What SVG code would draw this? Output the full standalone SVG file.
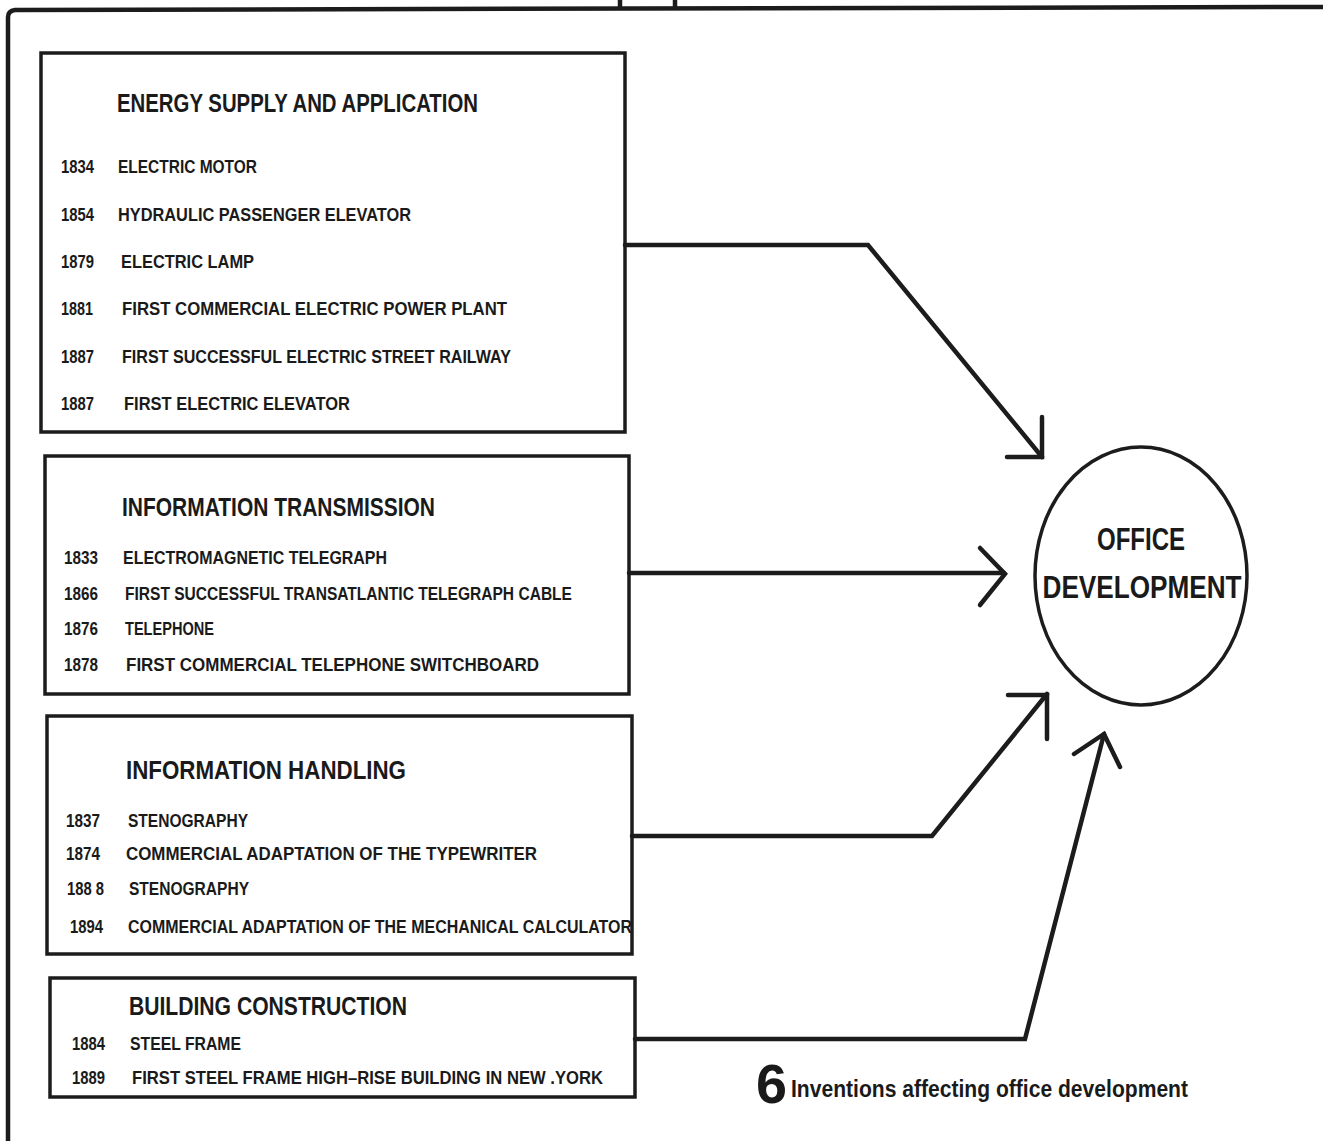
<svg xmlns="http://www.w3.org/2000/svg" width="1323" height="1141" viewBox="0 0 1323 1141" xml:space="preserve">
  <style>
    .frame { fill: none; stroke: #1c1c1c; stroke-width: 4.5; stroke-linejoin: round; }
    .box { fill: #ffffff; stroke: #1c1c1c; stroke-width: 3.5; }
    .wire { fill: none; stroke: #1c1c1c; stroke-width: 4.5; stroke-linejoin: miter; stroke-linecap: round; }
    text { font-family: "Liberation Sans", Arial, sans-serif; font-weight: bold; fill: #1a1a1a; }
    .title { font-size: 26px; }
    .item { font-size: 19px; }
    .hub { font-size: 31px; }
    .num { font-size: 56px; font-weight: 900; }
    .cap { font-size: 23px; }
  </style>
  <rect width="1323" height="1141" fill="#ffffff"/>

  <!-- page border with registration ticks -->
  <g id="page-frame">
    <path class="frame" d="M8,1141 L8,17 Q8,11 15,10 L1323,7"/>
    <line class="frame" x1="620" y1="0" x2="620" y2="7"/>
    <line class="frame" x1="675" y1="0" x2="675" y2="7"/>
  </g>

  <!-- energy supply -->
  <g id="energy-supply">
    <rect class="box" x="41" y="53" width="584" height="379"/>
    <text class="title" x="117" y="112" textLength="361" lengthAdjust="spacingAndGlyphs">ENERGY SUPPLY  AND APPLICATION</text>
    <text class="item" x="61" y="173" textLength="33" lengthAdjust="spacingAndGlyphs">1834</text>
    <text class="item" x="118" y="173" textLength="139" lengthAdjust="spacingAndGlyphs">ELECTRIC MOTOR</text>
    <text class="item" x="61" y="221" textLength="33" lengthAdjust="spacingAndGlyphs">1854</text>
    <text class="item" x="118" y="221" textLength="293" lengthAdjust="spacingAndGlyphs">HYDRAULIC  PASSENGER  ELEVATOR</text>
    <text class="item" x="61" y="268" textLength="33" lengthAdjust="spacingAndGlyphs">1879</text>
    <text class="item" x="121" y="268" textLength="133" lengthAdjust="spacingAndGlyphs">ELECTRIC  LAMP</text>
    <text class="item" x="61" y="315" textLength="32" lengthAdjust="spacingAndGlyphs">1881</text>
    <text class="item" x="122" y="315" textLength="385" lengthAdjust="spacingAndGlyphs">FIRST COMMERCIAL  ELECTRIC  POWER PLANT</text>
    <text class="item" x="61" y="363" textLength="33" lengthAdjust="spacingAndGlyphs">1887</text>
    <text class="item" x="122" y="363" textLength="389" lengthAdjust="spacingAndGlyphs">FIRST  SUCCESSFUL ELECTRIC  STREET  RAILWAY</text>
    <text class="item" x="61" y="410" textLength="33" lengthAdjust="spacingAndGlyphs">1887</text>
    <text class="item" x="124" y="410" textLength="226" lengthAdjust="spacingAndGlyphs">FIRST  ELECTRIC  ELEVATOR</text>
  </g>

  <!-- information transmission -->
  <g id="information-transmission">
    <rect class="box" x="45" y="456" width="584" height="238"/>
    <text class="title" x="122" y="516" textLength="313" lengthAdjust="spacingAndGlyphs">INFORMATION  TRANSMISSION</text>
    <text class="item" x="64" y="564" textLength="34" lengthAdjust="spacingAndGlyphs">1833</text>
    <text class="item" x="123" y="564" textLength="264" lengthAdjust="spacingAndGlyphs">ELECTROMAGNETIC  TELEGRAPH</text>
    <text class="item" x="64" y="600" textLength="34" lengthAdjust="spacingAndGlyphs">1866</text>
    <text class="item" x="125" y="600" textLength="447" lengthAdjust="spacingAndGlyphs">FIRST  SUCCESSFUL TRANSATLANTIC TELEGRAPH  CABLE</text>
    <text class="item" x="64" y="635" textLength="34" lengthAdjust="spacingAndGlyphs">1876</text>
    <text class="item" x="125" y="635" textLength="89" lengthAdjust="spacingAndGlyphs">TELEPHONE</text>
    <text class="item" x="64" y="671" textLength="34" lengthAdjust="spacingAndGlyphs">1878</text>
    <text class="item" x="126" y="671" textLength="413" lengthAdjust="spacingAndGlyphs">FIRST  COMMERCIAL  TELEPHONE  SWITCHBOARD</text>
  </g>

  <!-- information handling -->
  <g id="information-handling">
    <rect class="box" x="47" y="716" width="585" height="238"/>
    <text class="title" x="126" y="779" textLength="280" lengthAdjust="spacingAndGlyphs">INFORMATION  HANDLING</text>
    <text class="item" x="66" y="827" textLength="34" lengthAdjust="spacingAndGlyphs">1837</text>
    <text class="item" x="128" y="827" textLength="120" lengthAdjust="spacingAndGlyphs">STENOGRAPHY</text>
    <text class="item" x="66" y="860" textLength="34" lengthAdjust="spacingAndGlyphs">1874</text>
    <text class="item" x="126" y="860" textLength="411" lengthAdjust="spacingAndGlyphs">COMMERCIAL ADAPTATION OF THE  TYPEWRITER</text>
    <text class="item" x="67" y="895" textLength="37" lengthAdjust="spacingAndGlyphs">188 8</text>
    <text class="item" x="129" y="895" textLength="120" lengthAdjust="spacingAndGlyphs">STENOGRAPHY</text>
    <text class="item" x="70" y="933" textLength="33" lengthAdjust="spacingAndGlyphs">1894</text>
    <text class="item" x="128" y="933" textLength="504" lengthAdjust="spacingAndGlyphs">COMMERCIAL ADAPTATION  OF  THE MECHANICAL CALCULATOR</text>
  </g>

  <!-- building construction -->
  <g id="building-construction">
    <rect class="box" x="50" y="978" width="585" height="119"/>
    <text class="title" x="129" y="1015" textLength="278" lengthAdjust="spacingAndGlyphs">BUILDING  CONSTRUCTION</text>
    <text class="item" x="72" y="1050" textLength="33" lengthAdjust="spacingAndGlyphs">1884</text>
    <text class="item" x="130" y="1050" textLength="111" lengthAdjust="spacingAndGlyphs">STEEL  FRAME</text>
    <text class="item" x="72" y="1084" textLength="33" lengthAdjust="spacingAndGlyphs">1889</text>
    <text class="item" x="132" y="1084" textLength="471" lengthAdjust="spacingAndGlyphs">FIRST STEEL FRAME HIGH–RISE BUILDING IN NEW .YORK</text>
  </g>

  <!-- central hub -->
  <g id="office-development">
    <ellipse cx="1141" cy="576" rx="106" ry="129" fill="none" stroke="#1c1c1c" stroke-width="3.5"/>
    <text class="hub" x="1141" y="550" text-anchor="middle" textLength="88" lengthAdjust="spacingAndGlyphs">OFFICE</text>
    <text class="hub" x="1142" y="598" text-anchor="middle" textLength="199" lengthAdjust="spacingAndGlyphs">DEVELOPMENT</text>
  </g>

  <!-- connectors: bent lines with open arrowheads -->
  <g id="connectors">
    <polyline class="wire" points="625,245 868,245 1042,457"/>
    <polyline class="wire" points="1042,417 1042,457 1007,457"/>

    <polyline class="wire" points="629,573 1004,573"/>
    <polyline class="wire" points="980,548 1005,574 980,605"/>

    <polyline class="wire" points="632,836 932,836 1047,694"/>
    <polyline class="wire" points="1008,695 1047,695 1047,739"/>

    <polyline class="wire" points="635,1039 1025,1039 1104,734"/>
    <polyline class="wire" points="1074,754 1104,734 1120,767"/>
  </g>

  <!-- figure caption -->
  <g id="caption">
    <text class="num" x="756" y="1103" textLength="31" lengthAdjust="spacingAndGlyphs">6</text>
    <text class="cap" x="791" y="1097" textLength="397" lengthAdjust="spacingAndGlyphs">Inventions  affecting  office  development</text>
  </g>
</svg>
